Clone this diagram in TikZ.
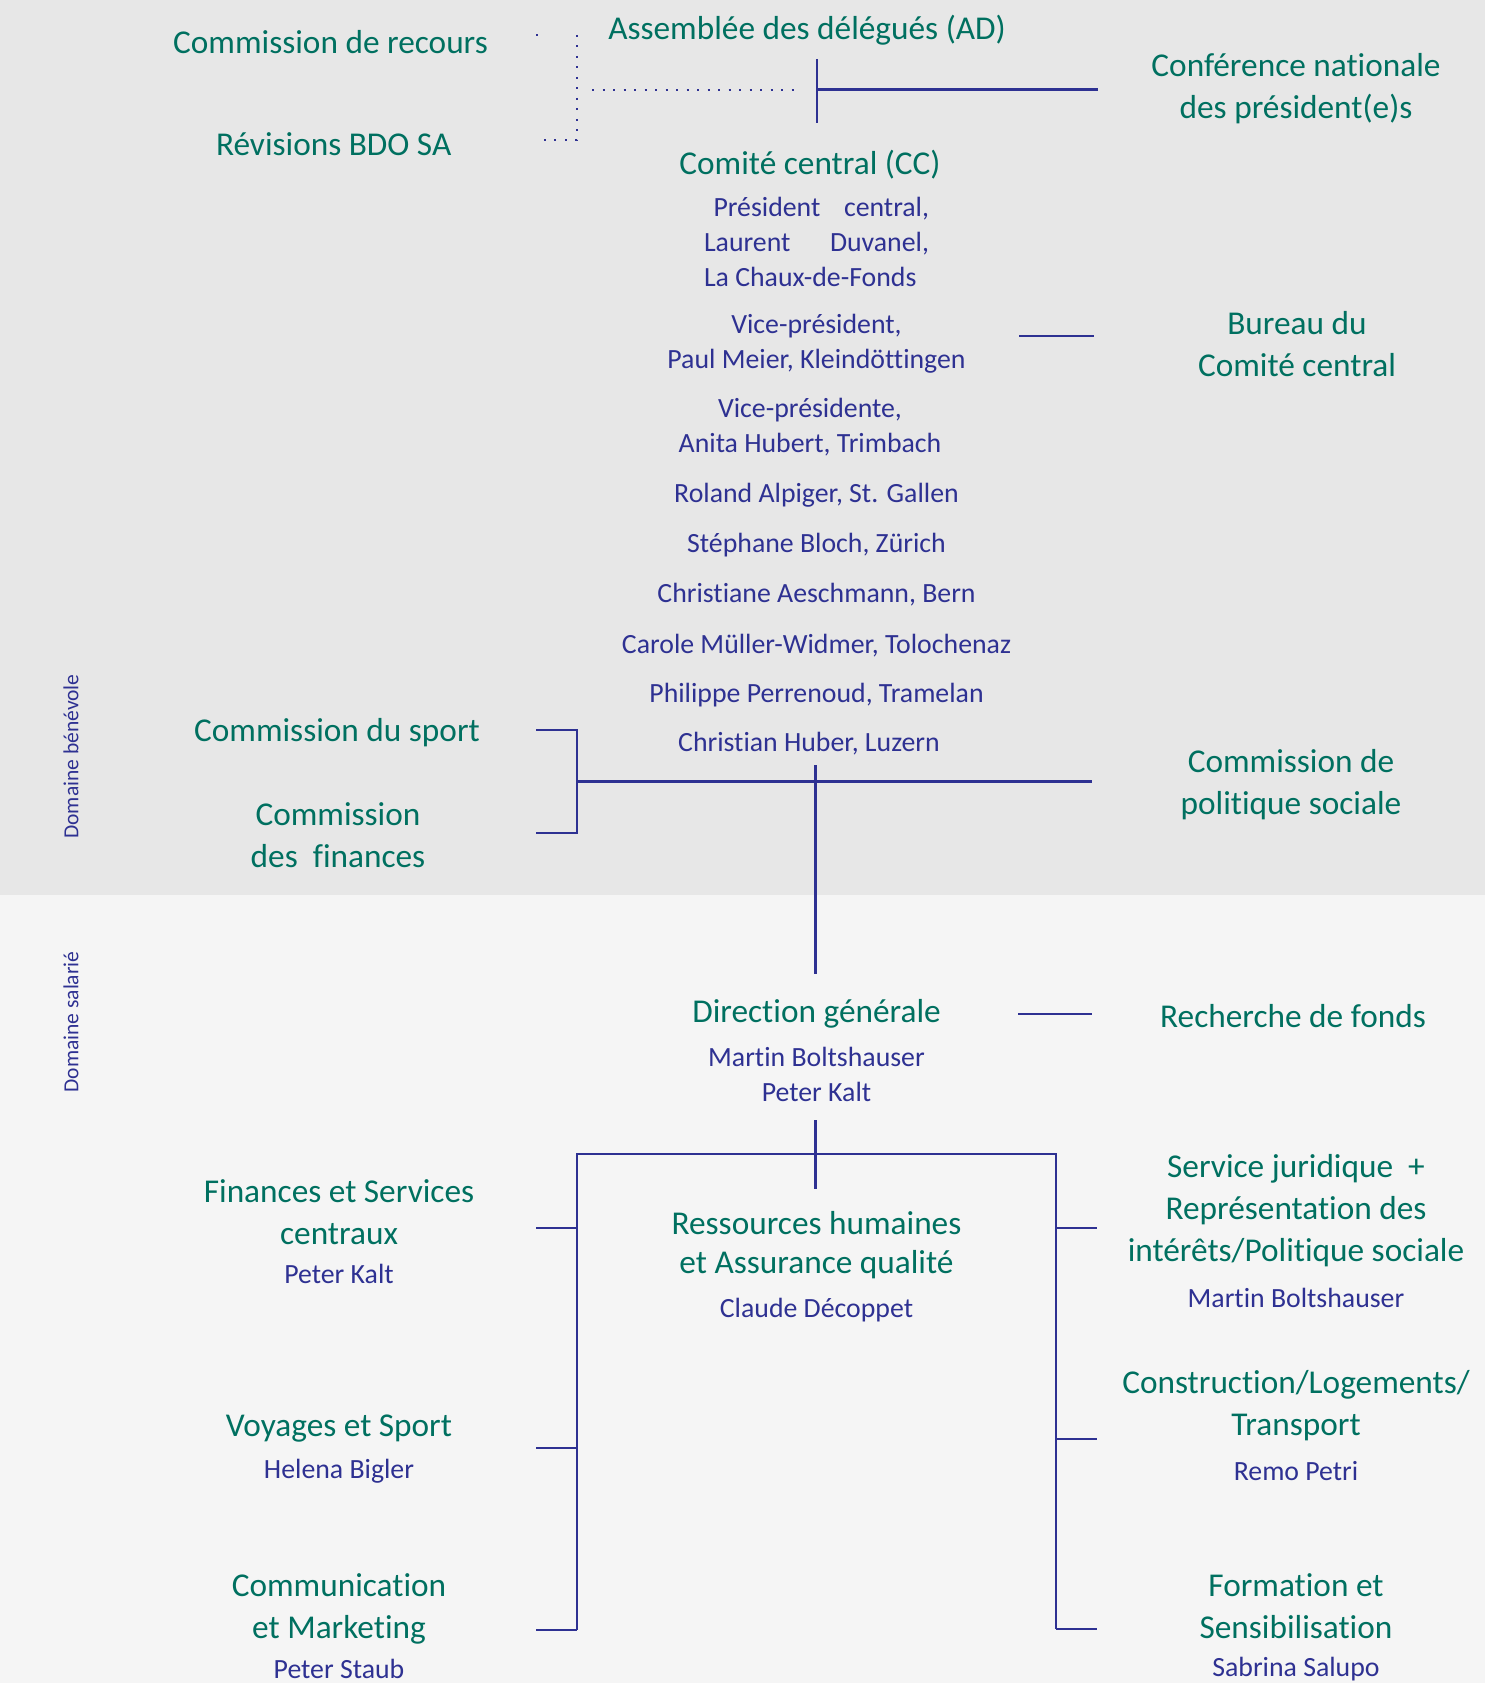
\documentclass[tikz,border=0pt]{standalone}
\usepackage{fontspec}
\setmainfont{Carlito}[Ligatures={NoCommon}]
\definecolor{tgreen}{RGB}{0,112,96}
\definecolor{tnavy}{RGB}{46,49,146}
\definecolor{bgup}{RGB}{231,231,231}
\definecolor{bglow}{RGB}{245,245,245}
\begin{document}
\begin{tikzpicture}[x=1pt,y=-1pt,
 g/.style={text=tgreen,font=\fontsize{33.3}{42}\selectfont,align=center,inner sep=0pt,yshift=-3pt},
 gq/.style={g,font=\fontsize{33.3}{39.7}\selectfont},
 n/.style={text=tnavy,font=\fontsize{27.8}{35}\selectfont,align=center,inner sep=0pt,yshift=-2.7pt},
 dom/.style={text=tnavy,font=\fontsize{21.5}{26}\selectfont,rotate=90,inner sep=0pt},
 ln/.style={draw=tnavy,line width=2.5pt},
 dl/.style={draw=tnavy,line width=2pt,dash pattern=on 2pt off 8.5pt}]
\useasboundingbox (0,0) rectangle (1485,1683);
\fill[bgup] (0,0) rectangle (1485,895);
\fill[bglow] (0,895) rectangle (1485,1683);

% upper domain
\node[g] (recours) at (330.5,38.6) {Commission de recours};
\node[g] (ad) at (807,26.8) {Assemblée des délégués (AD)};
\node[g] (conf) at (1296,86) {Conférence nationale\\des président(e)s};
\node[g] (bdo) at (333.7,141.6) {Révisions BDO SA};
\node[g] (cc) at (810,162) {Comité central (CC)};
\node[n,text width=225pt,align=flush left] (pres) at (816.5,238.8) {\spaceskip=0pt\relax\hspace*{9.5pt}Président\hfill central,\\Laurent\hfill Duvanel,\\\mbox{La Chaux-de-Fonds}};
\node[n] (vp1) at (816.5,340.6) {Vice-président,\\Paul Meier, Kleindöttingen};
\node[g] (bureau) at (1297,340.6) {Bureau du\\Comité central};
\node[n] (vp2) at (810,424.4) {Vice-présidente,\\Anita Hubert, Trimbach};
\node[n] (m1) at (816.5,492.5) {Roland Alpiger, St. Gallen};
\node[n] (m2) at (816.5,541.9) {Stéphane Bloch, Zürich};
\node[n] (m3) at (816.5,592.3) {Christiane Aeschmann, Bern};
\node[n] (m4) at (816.5,642.7) {Carole Müller-Widmer, Tolochenaz};
\node[n] (m5) at (816.5,692) {Philippe Perrenoud, Tramelan};
\node[n] (m6) at (809,741.4) {Christian Huber, Luzern};
\node[g] (sport) at (337,729.6) {Commission du sport};
\node[g] (fin) at (338,832) {Commission\\des\ \ finances};
\node[g] (pol) at (1291,781.7) {Commission de\\politique sociale};
\node[dom] (dben) at (71,756.5) {Domaine bénévole};
\node[dom] (dsal) at (71,1022) {Domaine salarié};

% lower domain
\node[g] (dg) at (816.5,1010.8) {Direction générale};
\node[n] (dgn) at (816.5,1071.4) {Martin Boltshauser\\Peter Kalt};
\node[g] (fonds) at (1293,1013) {Recherche de fonds};
\node[g] (fsc) at (339,1209) {Finances et Services\\centraux};
\node[n] (fscn) at (339,1271) {Peter Kalt};
\node[gq] (rh) at (816.5,1242) {Ressources humaines\\et Assurance qualité};
\node[n] (rhn) at (816.5,1307) {Claude Décoppet};
\node[g] (sj) at (1296,1208) {Service juridique\ \ +\\Représentation\ des\\intérêts/Politique sociale};
\node[n] (sjn) at (1296,1295) {Martin Boltshauser};
\node[g] (vs) at (339,1426) {Voyages et Sport};
\node[n] (vsn) at (339,1469) {Helena Bigler};
\node[g] (clt) at (1296,1403) {Construction/Logements/\\Transport};
\node[n] (cltn) at (1296,1468) {Remo Petri};
\node[g] (com) at (339,1606) {Communication\\et Marketing};
\node[n] (comn) at (339,1666) {Peter Staub};
\node[g] (form) at (1296,1603) {Formation et\\Sensibilisation};
\node[n] (formn) at (1296,1666) {Sabrina Salupo};

% coordinates
\coordinate (dTL) at (536,35);
\coordinate (dTR) at (577,35);
\coordinate (dBL) at (536,140);
\coordinate (dBR) at (577,140);
\coordinate (dH1) at (592,90);
\coordinate (dH2) at (797,90);
\coordinate (adT) at (817,59);
\coordinate (adB) at (817,123);
\coordinate (adM) at (817,90);
\coordinate (confL) at (1098,90);
\coordinate (buL) at (1019,336);
\coordinate (buR) at (1094,336);
\coordinate (brT0) at (536,730);
\coordinate (brT) at (577,730);
\coordinate (brB0) at (536,833);
\coordinate (brB) at (577,833);
\coordinate (brM) at (577,781.5);
\coordinate (polL) at (1092,781.5);
\coordinate (vT) at (815.5,765);
\coordinate (vB) at (815.5,974);
\coordinate (rfL) at (1018,1014);
\coordinate (rfR) at (1092,1014);
\coordinate (tT) at (815.5,1120);
\coordinate (tB) at (815.5,1189);
\coordinate (hL) at (577,1154);
\coordinate (hR) at (1056,1154);
\coordinate (lB) at (577,1630);
\coordinate (rB) at (1056,1629);

% dotted bracket
\draw[dl] (dTL) -- ++(1.5,0);
\draw[dl] (dTR) -- (dBR) -- (dBL);
\draw[dl] (dH1) -- (dH2);
% solid
\draw[ln] (adT) -- (adB);
\draw[ln,line width=3pt] (adM) -- (confL);
\draw[ln] (buL) -- (buR);
\draw[ln] (brT0) -- (brT) -- (brB) -- (brB0);
\draw[ln] (brM) -- (polL);
\draw[ln] (vT) -- (vB);
\draw[ln] (rfL) -- (rfR);
\draw[ln] (tT) -- (tB);
\draw[ln] (lB) -- (hL) -- (hR) -- (rB);
\draw[ln] (536,1228) -- (577,1228);
\draw[ln] (536,1448) -- (577,1448);
\draw[ln] (536,1630) -- (lB);
\draw[ln] (1056,1228) -- (1097,1228);
\draw[ln] (1056,1439) -- (1097,1439);
\draw[ln] (rB) -- (1097,1629);
\end{tikzpicture}
\end{document}
